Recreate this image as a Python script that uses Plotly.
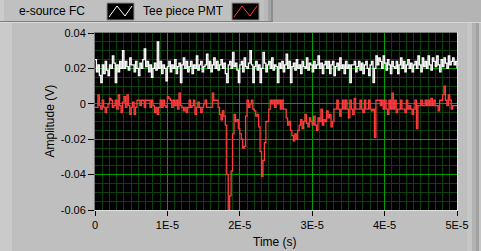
import plotly.graph_objects as go

# ---------------- data (values in mV, sampled every 0.2 us) ----------------
t0 = 0.0
dt = 2e-7

esource_fc_mv = [
    25, 18, 22, 16, 12, 22, 17, 24, 19, 16,
    22, 20, 27, 23, 12, 22, 18, 24, 20, 30,
    20, 24, 21, 19, 26, 22, 22, 18, 24, 20,
    16, 23, 20, 25, 31, 21, 24, 18, 22, 15,
    20, 23, 19, 35, 20, 24, 17, 22, 20, 13,
    21, 24, 18, 22, 20, 25, 17, 21, 23, 12,
    22, 26, 20, 24, 18, 21, 24, 17, 22, 20,
    27, 19, 22, 24, 18, 21, 22, 28, 20, 24,
    18, 22, 26, 20, 24, 19, 22, 25, 20, 23,
    17, 12, 22, 24, 20, 29, 21, 23, 19, 12,
    22, 24, 18, 26, 21, 20, 23, 30, 22, 12,
    21, 24, 19, 22, 12, 20, 29, 23, 18, 22,
    24, 20, 26, 19, 22, 21, 12, 23, 20, 24,
    18, 22, 28, 20, 24, 12, 21, 23, 19, 25,
    20, 22, 17, 24, 21, 20, 26, 19, 23, 22,
    18, 24, 20, 22, 27, 20, 23, 17, 22, 24,
    20, 24, 17, 22, 24, 16, 21, 23, 19, 26,
    20, 22, 17, 24, 20, 22, 12, 22, 22, 24,
    18, 21, 24, 19, 23, 17, 22, 24, 20, 16,
    22, 24, 12, 20, 27, 22, 26, 24, 20, 27,
    23, 19, 25, 22, 17, 24, 21, 20, 24, 17,
    22, 26, 20, 24, 18, 22, 25, 20, 23, 18,
    22, 24, 20, 27, 22, 18, 26, 21, 24, 20,
    27, 22, 19, 26, 24, 21, 27, 22, 18, 25,
    21, 26, 23, 20, 27, 22, 24, 26, 22, 24,
    20,
]

tee_pmt_mv = [
    -2, -2, 5, -1, -3, 2, -2, -5, -2, 0,
    3, 2, -2, -1, 2, -3, 5, -1, -5, 1,
    4, -2, 5, -1, -6, -2, 1, -6, -2, 2,
    2, -1, 2, 2, -2, 2, 2, 2, -2, 2,
    -1, -5, -2, -6, -2, 2, -2, 2, -1, -2,
    4, 3, 2, -2, 2, -1, 2, -3, 6, -1,
    -2, -4, -2, -5, -2, 2, -2, -1, 2, -6,
    -2, 1, -2, -5, -2, 0, 2, -2, -2, -2,
    -2, 6, 2, 2, 2, -2, -6, -9, -4, -7,
    -12, -40, -60, -52, -38, -17, -6, -10, -9, -14,
    -17, -20, -25, -24, -7, 2, -2, 0, 2, -3,
    -4, -7, -6, -13, -27, -41, -32, -22, -10, -10,
    -3, 2, 0, 2, -2, 2, 0, 2, -3, 2,
    -3, -3, -8, -12, -10, -15, -18, -21, -17, -20,
    -15, -12, -9, -14, -10, -6, -11, -13, -8, -10,
    -12, -7, -12, -15, -8, -10, -3, -12, -9, -10,
    -4, -8, -6, -13, -10, -3, -3, 2, -3, -7,
    -3, 2, -3, 2, -3, -8, 2, -3, -6, 3,
    -3, -3, -3, 2, -3, -5, 2, -3, -3, 2,
    -3, -4, -3, -19, 2, 2, 2, -1, 2, -3,
    2, -3, -6, 2, -3, 6, -3, 2, -5, -3,
    -3, 2, -3, -3, -5, 2, -3, -1, -3, -6,
    -3, 2, -14, -1, -1, 2, -1, -1, 2, -1,
    2, -1, 3, -1, 2, -1, -1, -4, 2, 2,
    5, 10, 2, -1, 5, 2, -3, -1, -1, -1,
    -1,
]

series_names = ["e-source FC", "Tee piece PMT"]
x_tickvals = [0, 1e-5, 2e-5, 3e-5, 4e-5, 5e-5]
x_ticktext = ["0", "1E-5", "2E-5", "3E-5", "4E-5", "5E-5"]
y_tickvals = [0.04, 0.02, 0, -0.02, -0.04, -0.06]
y_ticktext = ["0.04", "0.02", "0", "-0.02", "-0.04", "-0.06"]

# waveform time base (t0 + n*dt) and mV -> V
time_s = [t0 + n * dt for n in range(len(esource_fc_mv))]
esource_v = [v / 1000 for v in esource_fc_mv]
tee_v = [v / 1000 for v in tee_pmt_mv]

# ---------------- layout geometry ----------------
W, H = 481, 251
ML, MR, MT, MB = 95, 24, 33, 41
PW = W - ML - MR
PH = H - MT - MB


def px(x):
    return (x - ML) / PW


def py(y):
    return (H - MB - y) / PH


FONT = "Liberation Sans"
RED = "#FF3C3C"

fig = go.Figure()
fig.add_trace(go.Scatter(x=time_s, y=esource_v, mode="lines", name=series_names[0],
                         line=dict(color="#FFFFFF", width=1.3, shape="hv"),
                         showlegend=False))
fig.add_trace(go.Scatter(x=time_s, y=tee_v, mode="lines", name=series_names[1],
                         line=dict(color=RED, width=1.3, shape="hv"),
                         showlegend=False))

shapes = []


def rect(x0, y0, x1, y1, fill, layer="below"):
    shapes.append(dict(type="rect", xref="paper", yref="paper",
                       x0=px(x0), x1=px(x1), y0=py(y0), y1=py(y1),
                       fillcolor=fill, line=dict(width=0), layer=layer))


def hline(x0, x1, y, color, layer="above"):
    shapes.append(dict(type="line", xref="paper", yref="paper",
                       x0=px(x0), x1=px(x1), y0=py(y), y1=py(y),
                       line=dict(color=color, width=1), layer=layer))


def vline(x, y0, y1, color, layer="above"):
    shapes.append(dict(type="line", xref="paper", yref="paper",
                       x0=px(x), x1=px(x), y0=py(y0), y1=py(y1),
                       line=dict(color=color, width=1), layer=layer))


# panel chrome
rect(0, 0, W, 22, "#B4B4B4")
rect(0, 0, 273, 21, "#C0C0C0")
rect(0, 0, 4, 21, "#CBCBCB")
rect(264, 0, 268, 21, "#B8B8B8")
rect(268, 0, 271, 21, "#A4A4A4")
rect(271, 0, 273, 21, "#8E8E8E")
hline(0, 273, 21.5, "#808080", layer="below")
hline(0, W, 22.5, "#D6D6D6", layer="below")
rect(0, 23, 12, H, "#CACACA")
rect(467, 23, 472, H, "#C6C6C6")
rect(472, 23, 476, H, "#B2B2B2")
rect(476, 23, 479, H, "#A2A2A2")
rect(479, 23, W, H, "#C4C4C4")

# plot frame (sunken)
vline(94.5, 32, 211, "#7A7A7A")
hline(94.5, 457.5, 32.5, "#7A7A7A")
vline(457.5, 32, 211, "#E2E2E2")
hline(94.5, 457.5, 210.5, "#E2E2E2")

# legend icons
for bx, col in [(107, "#FFFFFF"), (232, RED)]:
    rect(bx, 3, bx + 27, 20, "#000000", layer="above")
    shapes.append(dict(type="rect", xref="paper", yref="paper",
                       x0=px(bx), x1=px(bx + 27), y0=py(3), y1=py(20),
                       line=dict(color="#8A8A8A", width=1), layer="above"))
    pts = [(bx + 2, 17), (bx + 10, 6), (bx + 18, 16), (bx + 25, 6)]
    path = "M " + " L ".join(f"{px(a)},{py(b)}" for a, b in pts)
    shapes.append(dict(type="path", xref="paper", yref="paper", path=path,
                       line=dict(color=col, width=1), layer="above"))

annotations = [
    dict(text=series_names[0], x=px(17), y=py(11), xref="paper", yref="paper",
         xanchor="left", yanchor="middle", showarrow=False,
         font=dict(family=FONT, size=12, color="#000000")),
    dict(text=series_names[1], x=px(141), y=py(11), xref="paper", yref="paper",
         xanchor="left", yanchor="middle", showarrow=False,
         font=dict(family=FONT, size=12, color="#000000")),
    dict(text="Amplitude (V)", x=px(49), y=py(121.5), xref="paper", yref="paper",
         xanchor="center", yanchor="middle", showarrow=False, textangle=-90,
         font=dict(family=FONT, size=12, color="#000000")),
    dict(text="Time (s)", x=px(275), y=py(242), xref="paper", yref="paper",
         xanchor="center", yanchor="middle", showarrow=False,
         font=dict(family=FONT, size=12, color="#000000")),
]

fig.update_layout(
    width=W, height=H,
    margin=dict(l=ML, r=MR, t=MT, b=MB, pad=0),
    paper_bgcolor="#BFBFBF",
    plot_bgcolor="#000000",
    showlegend=False,
    shapes=shapes,
    annotations=annotations,
    font=dict(family=FONT, size=11, color="#000000"),
)
fig.update_xaxes(
    range=[0, 5e-5], tickmode="array", tickvals=x_tickvals, ticktext=x_ticktext,
    showgrid=True, gridcolor="#00A000", gridwidth=1,
    minor=dict(dtick=1e-6, tick0=0, showgrid=True, gridcolor="#0A400A", gridwidth=1, ticks=""),
    ticks="outside", ticklen=5, tickcolor="#000000", tickwidth=1,
    showline=False, zeroline=False, fixedrange=True,
    tickfont=dict(family=FONT, size=11, color="#000000"),
)
fig.update_yaxes(
    range=[-0.06, 0.04], tickmode="array", tickvals=y_tickvals, ticktext=y_ticktext,
    showgrid=True, gridcolor="#00A000", gridwidth=1,
    minor=dict(dtick=0.005, tick0=0, showgrid=True, gridcolor="#0A400A", gridwidth=1, ticks=""),
    ticks="outside", ticklen=6, tickcolor="#000000", tickwidth=1,
    showline=False, zeroline=False, fixedrange=True,
    tickfont=dict(family=FONT, size=11, color="#000000"),
)

fig.write_html("out.html", config={"displayModeBar": False})
